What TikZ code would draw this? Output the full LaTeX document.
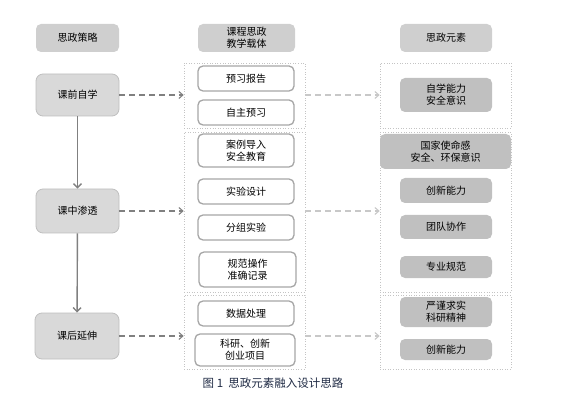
\documentclass[tikz,border=0pt]{standalone}
\usepackage{fontspec}
\setmainfont{Noto Sans CJK SC}
\usetikzlibrary{arrows.meta}
\definecolor{hdrfill}{HTML}{CFCFCF}
\definecolor{leftfill}{HTML}{D9D9D9}
\definecolor{leftdraw}{HTML}{BFBFBF}
\definecolor{middraw}{HTML}{A6A6A6}
\definecolor{rightfill}{HTML}{C0C0C0}
\definecolor{grpdraw}{HTML}{C4C4C4}
\definecolor{darkarrow}{HTML}{808080}
\definecolor{lightarrow}{HTML}{C8C8C8}
\definecolor{captioncol}{HTML}{1F2A44}
\tikzset{
  bx/.style 2 args={minimum width=#1pt, minimum height=#2pt},
  basebox/.style={inner sep=0pt, align=center, text=black, font=\fontsize{10}{12}\selectfont, rounded corners=5pt},
  hdrbox/.style={basebox, fill=hdrfill, draw=none},
  leftbox/.style={basebox, fill=leftfill, draw=leftdraw, line width=0.8pt, rounded corners=7pt},
  midbox/.style={basebox, fill=white, draw=middraw, line width=1.3pt},
  rightbox/.style={basebox, fill=rightfill, draw=none},
  grpbox/.style={draw=grpdraw, dotted, line width=0.6pt, inner sep=0pt},
  darkdash/.style={draw=darkarrow, dash pattern=on 6pt off 4pt, line width=1.1pt, -{Straight Barb[length=4pt,width=7pt]}},
  lightdash/.style={draw=lightarrow, dash pattern=on 6pt off 4pt, line width=1.1pt, -{Straight Barb[length=4pt,width=7pt]}},
  vertarrow/.style={draw=darkarrow, line width=1.4pt, -{Straight Barb[length=4pt,width=8pt]}},
}
\begin{document}
\begin{tikzpicture}[x=1pt,y=-1pt]
\useasboundingbox (0,0) rectangle (567,403);
% headers
\node[hdrbox, bx={83}{28}] (h1) at (77.5,38) {思政策略};
\node[hdrbox, bx={97}{28}] (h2) at (246.5,38) {课程思政\\教学载体};
\node[hdrbox, bx={92}{28}] (h3) at (446,38) {思政元素};
% groups
\node[grpbox, bx={121}{65}] (g1) at (244.5,95.5) {};
\node[grpbox, bx={121}{160}] (g2) at (244.5,212) {};
\node[grpbox, bx={121}{74}] (g3) at (244.5,332) {};
\node[grpbox, bx={131}{65}] (q1) at (445.5,95.5) {};
\node[grpbox, bx={131}{160}] (q2) at (445.5,212) {};
\node[grpbox, bx={131}{74}] (q3) at (445.5,332) {};
% left
\node[leftbox, bx={83}{42}] (l1) at (77.5,95) {课前自学};
\node[leftbox, bx={83}{44}] (l2) at (77.5,211) {课中渗透};
\node[leftbox, bx={84}{46}] (l3) at (77,336) {课后延伸};
% middle
\node[midbox, bx={96}{25}] (m1) at (246,78.5) {预习报告};
\node[midbox, bx={96}{25}] (m2) at (246,112.5) {自主预习};
\node[midbox, bx={96}{33}] (m3) at (246,150.5) {案例导入\\安全教育};
\node[midbox, bx={96}{25}] (m4) at (246,191.5) {实验设计};
\node[midbox, bx={96}{25}] (m5) at (246,227.5) {分组实验};
\node[midbox, bx={97}{35}] (m6) at (247.5,269.5) {规范操作\\准确记录};
\node[midbox, bx={96}{25}] (m7) at (246,313.5) {数据处理};
\node[midbox, bx={100}{32}] (m8) at (245,350) {科研、创新\\创业项目};
% right
\node[rightbox, bx={92}{34}] (r1) at (446,95) {自学能力\\安全意识};
\node[rightbox, bx={131}{35}] (r2) at (445.5,151.5) {国家使命感\\安全、环保意识};
\node[rightbox, bx={92}{25}] (r3) at (446,190.5) {创新能力};
\node[rightbox, bx={92}{24}] (r4) at (446,227) {团队协作};
\node[rightbox, bx={92}{22}] (r5) at (446,267) {专业规范};
\node[rightbox, bx={92}{30}] (r6) at (446,312) {严谨求实\\科研精神};
\node[rightbox, bx={92}{21}] (r7) at (446,349.5) {创新能力};
% vertical arrows
\draw[vertarrow] (l1) -- (l2);
\draw[vertarrow] (l2) -- (l3);
% dashed arrows
\draw[darkdash] (l1.east) -- (l1.east -| g1.west);
\draw[darkdash] (l2.east) -- (l2.east -| g2.west);
\draw[darkdash] (l3.east) -- (l3.east -| g3.west);
\draw[lightdash] (l1.east -| g1.east) -- (l1.east -| q1.west);
\draw[lightdash] (l2.east -| g2.east) -- (l2.east -| q2.west);
\draw[lightdash] (l3.east -| g3.east) -- (l3.east -| q3.west);
% caption
\node[font=\fontsize{11.5}{13}\selectfont, text=captioncol] (cap) at (273,383) {图 1\ \ 思政元素融入设计思路};
\end{tikzpicture}
\end{document}
